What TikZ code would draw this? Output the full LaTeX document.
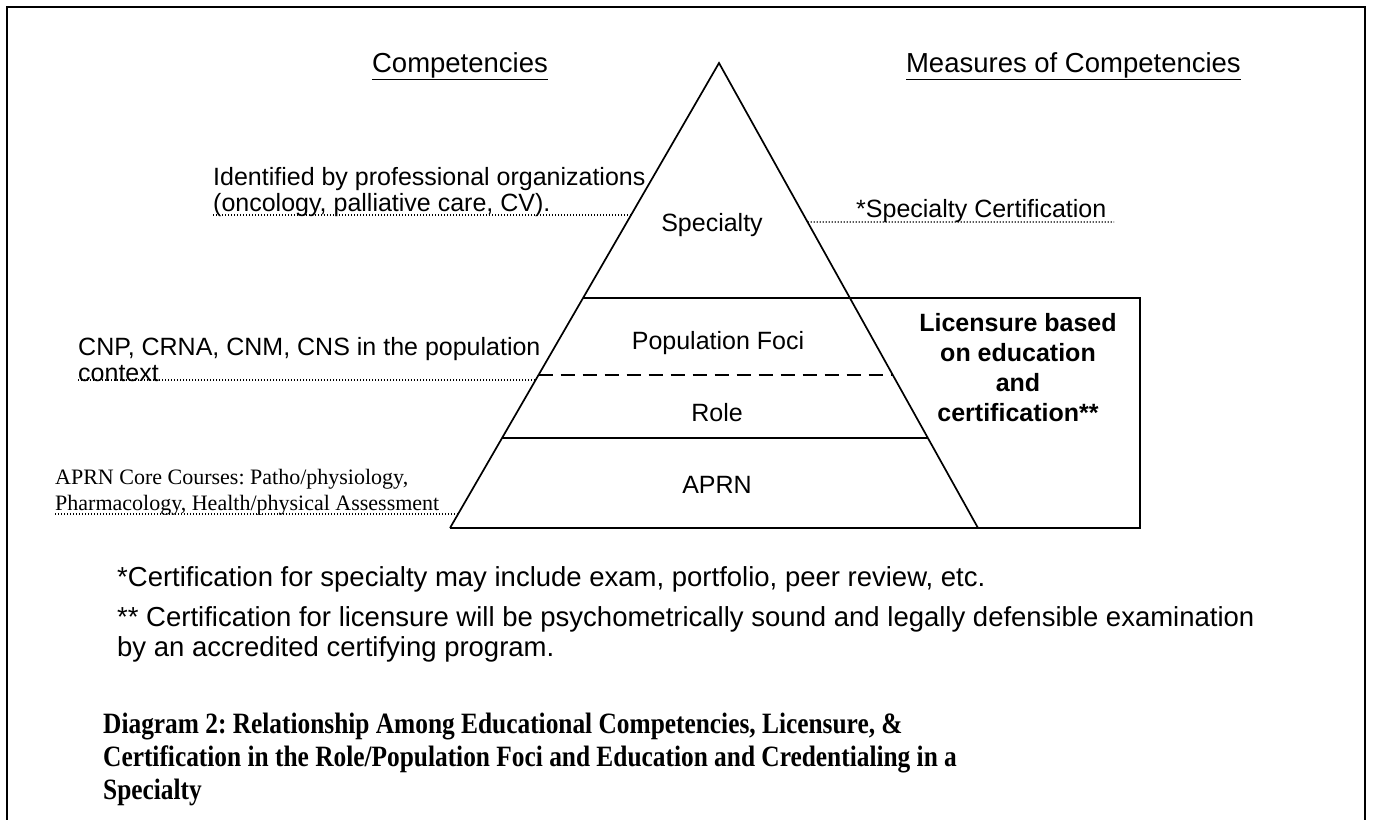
\documentclass[tikz,border=0pt]{standalone}
\usepackage{fontspec}
\setmainfont{Liberation Sans}
\newfontfamily\tnr{Liberation Serif}
\newfontfamily\tnrtitle[FakeStretch=0.86]{Liberation Serif}
\usetikzlibrary{calc}
\begin{document}
\frenchspacing
\begin{tikzpicture}[x=1pt,y=-1pt,
  body/.style={font=\fontsize{25}{29}\selectfont, inner sep=0pt},
  heading/.style={font=\fontsize{27.5}{32}\selectfont, inner sep=0pt, anchor=base},
  note/.style={font=\fontsize{27.5}{32}\selectfont, inner sep=0pt, anchor=base west},
  serifnote/.style={font=\tnr\fontsize{22}{26}\selectfont, inner sep=0pt, anchor=base west},
  titletext/.style={font=\tnrtitle\bfseries\fontsize{29.5}{34}\selectfont, inner sep=0pt, anchor=base west},
  leader/.style={line width=1.4pt, dash pattern=on 1.4pt off 1.6pt},
  pyr/.style={line width=1.7pt},
  frame/.style={line width=2.3pt}]
\useasboundingbox (0,0) rectangle (1373,819);
% outer frame (open at the bottom)
\draw[frame] (7,822) -- (7,7) -- (1365,7) -- (1365,822);

% pyramid
\coordinate (A) at (719,63);
\coordinate (BL) at (450,528);
\coordinate (BR) at (978,528);
\coordinate (L1) at ($(A)!0.5054!(BL)$);
\coordinate (L2) at ($(A)!0.671!(BL)$);
\coordinate (R2) at ($(A)!0.671!(BR)$);
\coordinate (L3) at ($(A)!0.8065!(BL)$);
\coordinate (R3) at ($(A)!0.8065!(BR)$);
\coordinate (RT) at (1140,298);
\coordinate (RB) at (1140,528);
\draw[pyr] (BL) -- (A) -- (BR);
\draw[pyr] (L1) -- (RT) -- (RB) -- (BL);
\draw[pyr, dash pattern=on 14pt off 8pt] (L2) -- (R2);
\draw[pyr] (L3) -- (R3);

% headings
\node[heading] (comp) at (460,72) {\underline{Competencies}};
\node[heading, anchor=base east] (meas) at (1241,72) {\underline{Measures of Competencies}};

% level labels
\node[body] (spec) at (712,225) {Specialty};
\node[body] (pop) at (718,343) {Population Foci};
\node[body] (role) at (717,413) {Role};
\node[body] (aprn) at (717,485) {APRN};

\node[font=\bfseries\fontsize{25}{30}\selectfont, align=center, inner sep=0pt] (lic) at (1018,368)
  {Licensure based\\on education\\and\\certification**};

% left labels
\node[body, anchor=base west] (ident) at (213,185) {Identified by professional organizations};
\node[body, anchor=base west] (onc) at (213,211) {(oncology, palliative care, CV).};
\coordinate (E1) at ($(A)!0.327!(BL)$);
\draw[leader] (onc.base west |- E1) -- (E1);

\node[body, anchor=base west] (cnp) at (78,355) {CNP, CRNA, CNM, CNS in the population};
\node[body, anchor=base west] (ctx) at (78,381) {context};
\coordinate (E2) at ($(A)!0.682!(BL)$);
\draw[leader] (ctx.base west |- E2) -- (E2);

\node[serifnote] (core1) at (55,484) {APRN Core Courses: Patho/physiology,};
\node[serifnote] (core2) at (55,510) {Pharmacology, Health/physical Assessment};
\coordinate (E3) at ($(A)!0.97!(BL)$);
\draw[leader] (core2.base west |- E3) -- (E3);

% right label
\node[body, anchor=base west] (scert) at (856,217) {*Specialty Certification};
\coordinate (E4) at ($(A)!0.342!(BR)$);
\coordinate (E4e) at (1114,222);
\draw[leader] (E4) -- (E4e);

% footnotes
\node[note] (fn1) at (117,586) {*Certification for specialty may include exam, portfolio, peer review, etc.};
\node[note] (fn2) at (117,626) {** Certification for licensure will be psychometrically sound and legally defensible examination};
\node[note] (fn3) at (117,656) {by an accredited certifying program.};

% caption
\node[titletext] (t1) at (103,733) {Diagram 2: Relationship Among Educational Competencies, Licensure, \&};
\node[titletext] (t2) at (103,766) {Certification in the Role/Population Foci and Education and Credentialing in a};
\node[titletext] (t3) at (103,799) {Specialty};
\end{tikzpicture}
\end{document}
